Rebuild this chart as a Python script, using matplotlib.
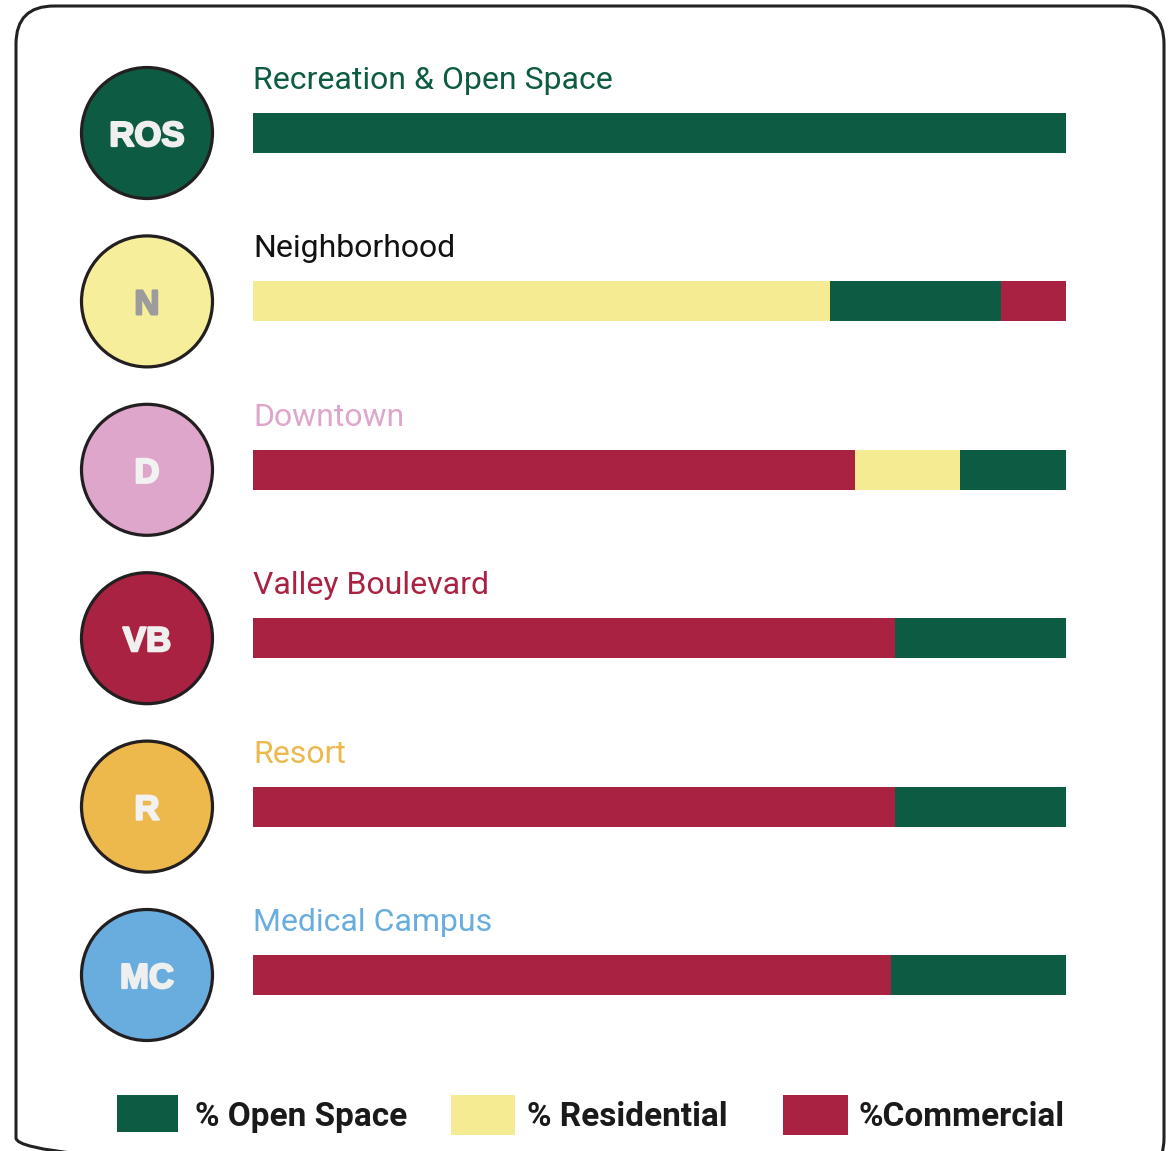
import matplotlib
matplotlib.use("Agg")
import matplotlib.pyplot as plt
from matplotlib.patches import Circle, FancyBboxPatch, Rectangle
from matplotlib import patheffects as pe

# ---------------- data ----------------
categories = ["Recreation & Open Space", "Neighborhood", "Downtown",
              "Valley Boulevard", "Resort", "Medical Campus"]
abbrevs = ["ROS", "N", "D", "VB", "R", "MC"]
# segment order per row (left to right) and values in %
segments = [
    [("open", 100)],
    [("res", 71), ("open", 21), ("com", 8)],
    [("com", 74), ("res", 13), ("open", 13)],
    [("com", 79), ("open", 21)],
    [("com", 79), ("open", 21)],
    [("com", 78.5), ("open", 21.5)],
]
legend_labels = ["% Open Space", "% Residential", "%Commercial"]

# ---------------- styles ----------------
GREEN = "#0d5b43"
YELLOW = "#f5eb93"
RED = "#a92242"
PINK = "#dea6cb"
ORANGE = "#edb84c"
BLUE = "#69addf"
seg_colors = {"open": GREEN, "res": YELLOW, "com": RED}
circle_colors = [GREEN, "#f6ee9a", PINK, RED, ORANGE, BLUE]
title_colors = [GREEN, "#111111", PINK, RED, ORANGE, BLUE]
abbr_colors = ["#efefef", "#9c9c9c", "#f2f2f2", "#efefef", "#f2f2f2", "#efefef"]

W, H = 1174, 1151
fig = plt.figure(figsize=(W / 100, H / 100), dpi=100)

# overlay axes in pixel coordinates
ov = fig.add_axes([0, 0, 1, 1])
ov.set_xlim(0, W)
ov.set_ylim(H, 0)
ov.axis("off")

# rounded border
ov.add_patch(FancyBboxPatch((16, 6), 1148, 1170, boxstyle="round,pad=0,rounding_size=38",
                            fill=False, edgecolor="#222222", linewidth=2.2, zorder=1))

row0, pitch = 133, 168.4
for i, (ab, cc, ac, tc, name) in enumerate(zip(abbrevs, circle_colors, abbr_colors,
                                                title_colors, categories)):
    cy = row0 + pitch * i
    ov.add_patch(Circle((147, cy), 65.5, facecolor=cc, edgecolor="#231f20",
                        linewidth=2.3, zorder=2))
    ov.text(147, cy + 13, ab, ha="center", va="baseline", fontsize=25,
            fontweight="bold", family="Liberation Sans", color=ac, zorder=3,
            path_effects=[pe.withStroke(linewidth=1.6, foreground=ac)])
    ov.text(253, cy - 44, name, ha="left", va="baseline", fontsize=23,
            family="Roboto", color=tc, zorder=3)

# legend
leg_boxes = [(117, 1095, 61, 37), (451, 1095, 64, 40), (783, 1095, 65, 40)]
leg_text_x = [195, 527, 858]
for (x, y, w, h), col, lab, tx in zip(leg_boxes, [GREEN, YELLOW, RED], legend_labels, leg_text_x):
    ov.add_patch(Rectangle((x, y), w, h, facecolor=col, edgecolor="none", zorder=2))
    ov.text(tx, 1126, lab, ha="left", va="baseline", fontsize=24, fontweight="bold",
            family="Roboto", color="#1a1a1a", zorder=3)

# bar axes
left_px, right_px = 253, 1066
top_px = row0 - pitch / 2
bot_px = row0 + pitch * 5.5
bx = fig.add_axes([left_px / W, 1 - bot_px / H, (right_px - left_px) / W, (bot_px - top_px) / H])
bx.set_xlim(0, 100)
bx.set_ylim(5.5, -0.5)
bx.axis("off")
bx.patch.set_alpha(0)
bar_h = 40 / pitch
for i, segs in enumerate(segments):
    start = 0
    for key, val in segs:
        bx.barh(i, val, left=start, height=bar_h, color=seg_colors[key], linewidth=0)
        start += val

fig.savefig("out.png", dpi=100)
